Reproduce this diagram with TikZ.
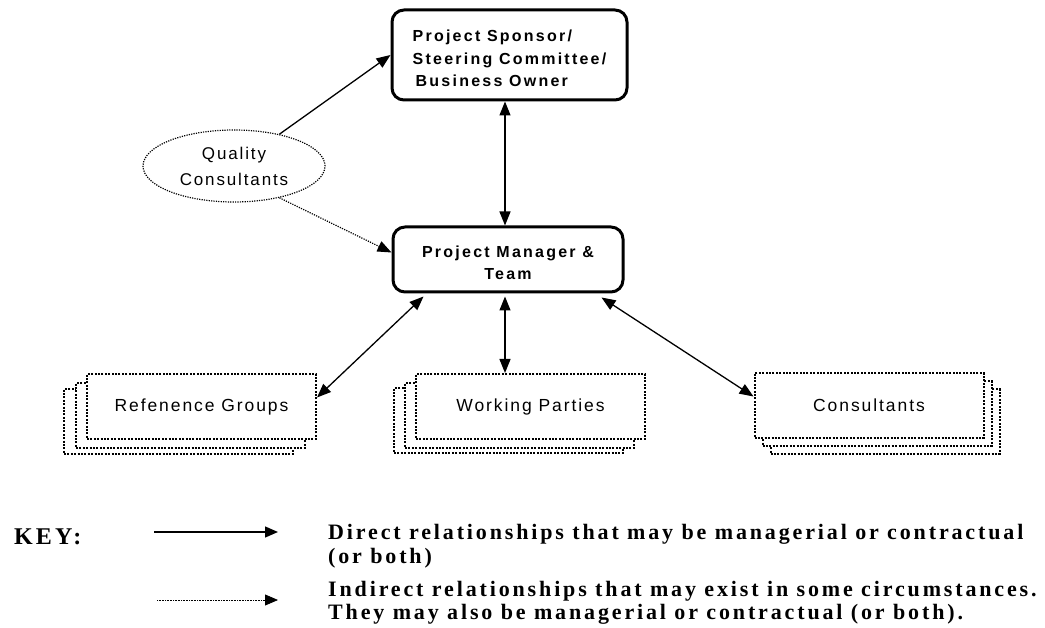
\documentclass[tikz,border=0pt]{standalone}
\usepackage{fontspec}
\setmainfont{Liberation Sans}
\newfontfamily\boxfont[LetterSpace=14]{Liberation Sans}
\newfontfamily\lblfont[LetterSpace=11]{Liberation Sans}
\newfontfamily\keyfont[LetterSpace=13]{Liberation Serif}
\usetikzlibrary{arrows.meta,shapes.geometric}
\begin{document}
\begin{tikzpicture}[x=1pt,y=-1pt,
  bigbox/.style={draw, line width=3pt, rounded corners=12pt, fill=white, inner sep=0pt,
    font=\boxfont\bfseries\fontsize{16}{22.5}\selectfont},
  stackbox/.style={draw, line width=2pt, dash pattern=on 2pt off 1.4pt, fill=white,
    minimum width=229pt, minimum height=65pt, inner sep=0pt,
    font=\lblfont\fontsize{17.5}{21}\selectfont},
  qcell/.style={ellipse, draw, line width=1.2pt, dash pattern=on 1.2pt off 1.2pt,
    minimum width=182pt, minimum height=72pt, inner sep=0pt, align=center,
    font=\lblfont\fontsize{17}{26}\selectfont},
  arr/.style={line width=1.3pt, -{Triangle[length=14pt,width=11pt]}},
  darr/.style={line width=1.3pt, {Triangle[length=14pt,width=11pt]}-{Triangle[length=14pt,width=11pt]}},
  dotarr/.style={line width=1.2pt, dash pattern=on 1.2pt off 1.2pt, -{Triangle[length=14pt,width=11pt]}},
  keytext/.style={anchor=west, align=left, inner sep=0pt,
    font=\keyfont\bfseries\fontsize{22}{23.5}\selectfont}
]
\useasboundingbox (0,0) rectangle (1045,628);

% main boxes
\node[bigbox, minimum width=235pt, minimum height=90pt, align=left] (sp) at (509.5,55)
  {\rule{0pt}{19pt}Project Sponsor/\\Steering Committee/\\\hspace{3pt}Business Owner};
\node[bigbox, minimum width=230pt, minimum height=65pt, align=center] (pm) at (508,259.5)
  {\rule{0pt}{18pt}Project Manager \&\\Team};
\node[qcell] (qc) at (234,166) {Quality\\Consultants};

% stacked boxes
\node[stackbox] (rg3) at (178.5,421.5) {};
\node[stackbox] (rg2) at (190.5,415.5) {};
\node[stackbox] (rg) at (201.5,406.5) {Refenence Groups};

\node[stackbox] (wp3) at (508.5,420.5) {};
\node[stackbox] (wp2) at (519.5,415.5) {};
\node[stackbox] (wp) at (530.5,406.5) {Working Parties};

\node[stackbox] (cs3) at (885,421.5) {};
\node[stackbox] (cs2) at (877,413.5) {};
\node[stackbox] (cs) at (869,405.5) {Consultants};

% connectors
\draw[arr] (qc.35) -- (sp.west);
\draw[dotarr] (qc.-35) -- ([yshift=7pt]pm.west);
\draw[darr] ([xshift=-4.5pt]sp.south) -- ([xshift=-4.5pt]sp.south |- pm.north);
\draw[darr] ([xshift=32pt,yshift=-3pt]pm.south west) -- ([yshift=9pt]rg.east);
\draw[darr] ([xshift=-3pt,yshift=-3pt]pm.south) -- ([xshift=-3pt]pm.south |- wp.north);
\draw[darr] ([xshift=-23pt,yshift=-4pt]pm.south east) -- ([yshift=9pt]cs.west);

% key
\node[keytext, font=\keyfont\bfseries\fontsize{24}{26}\selectfont] (key) at (14,537) {KEY:};
\coordinate (k1s) at (154,532);
\coordinate (k1e) at (278,532);
\coordinate (k2s) at (157,600);
\coordinate (k2e) at (278,600);
\draw[line width=1.3pt, -{Triangle[length=13pt,width=11pt]}] (k1s) -- (k1e);
\draw[line width=0.8pt, dash pattern=on 0.8pt off 0.8pt, -{Triangle[length=13pt,width=11pt]}] (k2s) -- (k2e);
\node[keytext] (kd) at (328,546) {Direct relationships that may be managerial or contractual\\(or both)};
\node[keytext] (ki) at (328,603) {Indirect relationships that may exist in some circumstances.\\They may also be managerial or contractual (or both).};
\end{tikzpicture}
\end{document}
